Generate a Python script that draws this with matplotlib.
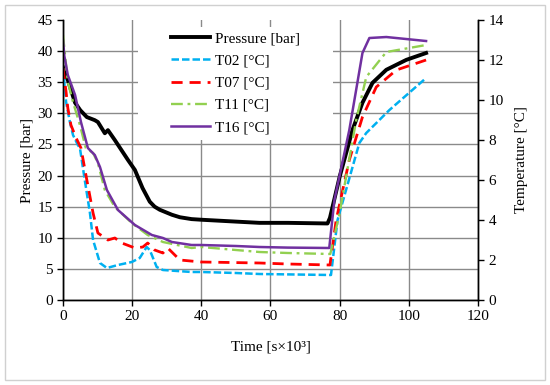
import matplotlib
matplotlib.use("Agg")
import matplotlib.pyplot as plt
from matplotlib.lines import Line2D
from matplotlib.patches import Rectangle

plt.rcParams["font.family"] = ["Liberation Serif", "DejaVu Serif"]
plt.rcParams["font.size"] = 11

# Pressure [bar] (left axis)
t_p = [0, 0.5, 1.5, 3.5, 5, 6.9, 9.2, 10.1, 12.1, 13, 15, 18.8, 20.8, 23, 25.1, 26.5,
       28, 31.5, 33.8, 37.2, 40, 50, 56.8, 65, 76.5, 77.2, 80, 83.7, 86.6, 89.5,
       93.5, 99.3, 105]
pressure = [37.4, 36.5, 35.2, 31.7, 30.5, 29.4, 28.9, 28.6, 26.8, 27.3, 25.7, 22.5,
            20.9, 18.0, 15.8, 15.0, 14.5, 13.7, 13.3, 13.0, 12.9, 12.6, 12.4, 12.4,
            12.3, 13.2, 19.8, 27.3, 31.7, 34.9, 37.0, 38.6, 39.7]

# Temperatures [°C] (right axis)
t_02 = [0, 0.9, 2, 2.9, 4.3, 4.9, 6.3, 7.8, 8.7, 10.7, 12.7, 15.9, 19.9, 22.2, 24.2,
        25.1, 27.1, 28.9, 33, 37.2, 40, 50, 56.8, 65, 77.5, 79.4, 85.7, 87.7, 94.4, 105]
T02 = [11.6, 9.9, 8.9, 8.25, 7.75, 7.6, 6.0, 4.35, 3.0, 1.85, 1.6, 1.75, 1.9, 2.1, 2.65,
       2.5, 1.65, 1.5, 1.45, 1.4, 1.4, 1.35, 1.3, 1.28, 1.25, 4.0, 7.85, 8.35, 9.5, 11.1]

t_07 = [0, 0.9, 1.4, 2.3, 3.8, 5.2, 6.9, 8.7, 10.1, 13, 15, 17, 20.8, 23.1, 24.5, 26.5,
        28.9, 30.3, 33.8, 40, 50, 56.8, 65, 77.2, 79, 82.8, 86.6, 90.6, 96.4, 105]
T07 = [11.6, 10.4, 9.6, 8.75, 8.1, 7.6, 6.0, 4.35, 3.35, 3.0, 3.1, 2.85, 2.6, 2.65, 2.85,
       2.5, 2.35, 2.6, 2.0, 1.9, 1.87, 1.85, 1.8, 1.75, 4.0, 7.0, 9.15, 10.65, 11.5, 12.0]

t_11 = [0, 1.4, 2.9, 4.9, 6.6, 8.7, 10.1, 12.1, 15, 19.9, 24.5, 28.9, 37.2, 40, 50,
        56.8, 65, 77.3, 80, 84.8, 87.7, 93.5, 105]
T11 = [13.25, 10.9, 9.9, 8.75, 7.6, 7.35, 6.85, 5.5, 4.65, 3.85, 3.25, 2.9, 2.6, 2.65,
       2.5, 2.4, 2.35, 2.3, 4.35, 9.0, 11.15, 12.4, 12.75]

t_16 = [0, 0.4, 1.4, 3.5, 5.2, 7.2, 9.2, 10.7, 12.7, 15.9, 20.8, 25.7, 28.9, 31.5, 37.2,
        40, 50, 56.8, 65, 77, 78.5, 82.8, 86.6, 88.6, 93.5, 105]
T16 = [13.0, 12.2, 11.25, 10.25, 8.9, 7.6, 7.25, 6.65, 5.5, 4.5, 3.75, 3.25, 3.1, 2.9,
       2.75, 2.75, 2.7, 2.65, 2.62, 2.6, 5.0, 8.5, 12.35, 13.1, 13.15, 12.95]

fig = plt.figure(figsize=(5.5, 3.85), dpi=100)
fig.patches.append(Rectangle((0.009, 0.013), 0.982, 0.974, transform=fig.transFigure,
                             fill=False, edgecolor="#d0d0d0", linewidth=1))
ax = fig.add_axes([0.1145, 0.2208, 0.7545, 0.7272])
ax2 = ax.twinx()

styles = {
    "p": dict(color="black", linewidth=2.8),
    "02": dict(color="#00B0F0", linewidth=1.8, dashes=(3, 1.2)),
    "07": dict(color="#FF0000", linewidth=2.0, dashes=(4, 2.5)),
    "11": dict(color="#92D050", linewidth=1.7, dashes=(5, 2, 1.2, 2)),
    "16": dict(color="#7030A0", linewidth=1.8),
}

ax.plot(t_p, pressure, zorder=3, **styles["p"])
ax2.plot(t_02, T02, **styles["02"])
ax2.plot(t_07, T07, **styles["07"])
ax2.plot(t_11, T11, **styles["11"])
ax2.plot(t_16, T16, **styles["16"])

ax.set_xlim(0, 120)
ax.set_ylim(0, 45)
ax2.set_ylim(0, 14)
ax.set_xticks(range(0, 121, 20))
ax.set_yticks(range(0, 46, 5))
ax2.set_yticks(range(0, 15, 2))

ax.grid(True, color="#8a8a8a", linewidth=1)
ax.yaxis.get_gridlines()[-1].set_visible(False)
for a in (ax, ax2):
    a.spines["top"].set_visible(False)
    for s in ("left", "right", "bottom"):
        a.spines[s].set_linewidth(1)
    a.tick_params(direction="out", length=4, width=1, labelsize=11)

ax.set_xlabel("Time [s×10³]", fontsize=11, labelpad=12)
ax.set_ylabel("Pressure [bar]", fontsize=11, labelpad=3)
ax2.set_ylabel("Temperature [°C]", fontsize=11, labelpad=8)

# white box behind the legend (hides grid there)
ax.add_patch(Rectangle((0.181, 0.571), 0.47, 0.404, transform=ax.transAxes,
                       facecolor="white", edgecolor="none", zorder=1.8))

handles = [Line2D([], [], **styles[k]) for k in ("p", "02", "07", "11", "16")]
labels = ["Pressure [bar]", "T02 [°C]", "T07 [°C]", "T11 [°C]", "T16 [°C]"]
ax2.legend(handles, labels, loc="upper left", bbox_to_anchor=(0.245, 0.979),
           frameon=False, fontsize=11, handlelength=2.6, handletextpad=0.3,
           labelspacing=0.55, borderaxespad=0)

fig.savefig("out.png", dpi=100)
